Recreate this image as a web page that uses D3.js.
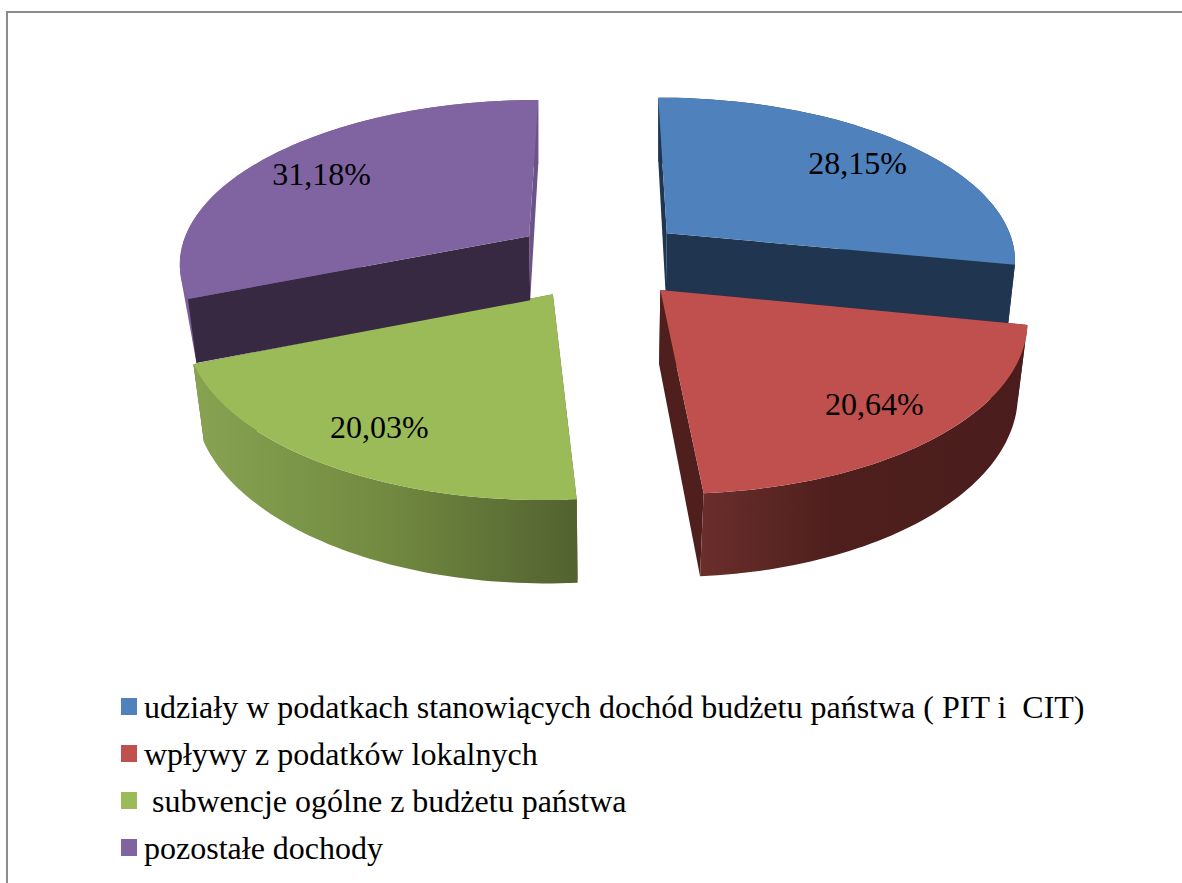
<!DOCTYPE html>
<html>
<head>
<meta charset="utf-8">
<script src="https://cdn.jsdelivr.net/npm/d3@7"></script>
<style>
  html, body { margin: 0; padding: 0; background: #fff; }
  svg { display: block; }
  text { font-family: "Liberation Serif", serif; fill: #000; white-space: pre; }
</style>
</head>
<body>
<div id="chart"></div>
<script>
const categories = [
  'udziały w podatkach stanowiących dochód budżetu państwa ( PIT i  CIT)',
  'wpływy z podatków lokalnych',
  ' subwencje ogólne z budżetu państwa',
  'pozostałe dochody'
];
const shares = [28.15, 20.64, 20.03, 31.18];

// top face, then the two flat cut faces, then the wall gradient left to right
const topColors = ['#4f81bd', '#c0504d', '#9bbb59', '#8064a2'];
const startFaceColors = ['#1f3550', '#4f1f1e', '#546431', '#382943'];
const endFaceColors = ['#1f3550', '#4f1f1e', '#546431', '#6c5489'];
const wallStops = [
  ['#1f3550', '#1f3550', '#1f3550'],
  ['#6a2e2b', '#4e1f1d', '#4a1d1c'],
  ['#87a352', '#728a40', '#526230'],
  ['#7a5f9c', '#6c5489', '#6c5489']
];

const width = 1182;
const height = 883;
const explode = 0.25;
const labelRadius = 0.79;

// camera, fitted against the corners of the slices
const cx = 600.5, cy = 258.5, scaleX = 351, scaleY = 163, perspective = 0.15;

const svg = d3.select('#chart').append('svg')
  .attr('width', width)
  .attr('height', height);
const defs = svg.append('defs');

// frame is open on the right and at the bottom
svg.append('path')
  .attr('d', `M7,${height}V12H${width}`)
  .attr('fill', 'none')
  .attr('stroke', '#8c8c8c')
  .attr('stroke-width', 2);

const pie = d3.pie().sort(null).value(d => d);
const slices = pie(shares);

function topPoint(X, Y) {
  const s = 1 / (1 + perspective * Y);
  return [cx + scaleX * X * s, cy - scaleY * Y * s];
}

// the underside sits lower, more so for the slices pushed towards the viewer
function bottomPoint(X, Y, front) {
  const p = topPoint(X, Y);
  const shrink = 0.983 + 0.015 * Y;
  const depth = front ? 73 - 8.5 * Y : 64;
  return [cx + (p[0] - cx) * shrink, p[1] + depth];
}

const line = d3.line();

slices.forEach((slice, i) => {
  const mid = (slice.startAngle + slice.endAngle) / 2;
  const ox = explode * Math.sin(mid);
  const oy = explode * Math.cos(mid);
  const front = Math.cos(mid) < 0;

  const rim = d3.range(0, 61).map(k => {
    const a = slice.startAngle + (slice.endAngle - slice.startAngle) * k / 60;
    return [ox + Math.sin(a), oy + Math.cos(a)];
  });
  const first = rim[0];
  const last = rim[rim.length - 1];
  const bottom = p => bottomPoint(p[0], p[1], front);
  const top = p => topPoint(p[0], p[1]);
  const apex = [ox, oy];

  const group = svg.append('g').attr('class', 'slice');

  const xs = rim.map(p => top(p)[0]);
  const grad = defs.append('linearGradient')
    .attr('id', `wall${i}`)
    .attr('gradientUnits', 'userSpaceOnUse')
    .attr('x1', d3.min(xs)).attr('x2', d3.max(xs))
    .attr('y1', 0).attr('y2', 0);
  const offsets = i === 1 ? [0, 0.4, 1] : [0, 0.5, 1];
  wallStops[i].forEach((c, k) => {
    grad.append('stop').attr('offset', offsets[k]).attr('stop-color', c);
  });

  const drawFaces = () => {
    group.append('path')
      .attr('d', line([top(apex), top(last), bottom(last), bottom(apex)]) + 'Z')
      .attr('fill', endFaceColors[i]);
    group.append('path')
      .attr('d', line([top(apex), top(first), bottom(first), bottom(apex)]) + 'Z')
      .attr('fill', startFaceColors[i]);
  };

  if (front) {
    drawFaces();
    group.append('path')
      .attr('d', line(rim.map(top).concat(rim.map(bottom).reverse())) + 'Z')
      .attr('fill', `url(#wall${i})`);
  } else {
    // back slices: only a straight sliver of wall shows past the top
    const hull = d3.polygonHull(rim.map(top).concat([bottom(first), bottom(last)]));
    group.append('path')
      .attr('d', line(hull) + 'Z')
      .attr('fill', `url(#wall${i})`);
    drawFaces();
  }

  group.append('path')
    .attr('d', line([top(apex)].concat(rim.map(top))) + 'Z')
    .attr('fill', topColors[i]);
});

const pct = d3.formatLocale({ decimal: ',', thousands: ' ', grouping: [3], currency: ['', ''] }).format('.2f');

slices.forEach(slice => {
  const mid = (slice.startAngle + slice.endAngle) / 2;
  const r = labelRadius + explode;
  const p = topPoint(r * Math.sin(mid), r * Math.cos(mid));
  svg.append('text')
    .attr('x', p[0])
    .attr('y', p[1] + 13)
    .attr('text-anchor', 'middle')
    .attr('font-size', 32)
    .text(pct(slice.data) + '%');
});

const legendY = d3.scaleLinear().domain([0, 3]).range([718, 859]);

categories.forEach((name, i) => {
  svg.append('rect')
    .attr('x', 121)
    .attr('y', legendY(i) - 20)
    .attr('width', 16)
    .attr('height', 17)
    .attr('fill', topColors[i]);
  svg.append('text')
    .attr('x', 144)
    .attr('y', legendY(i))
    .attr('font-size', 32)
    .text(name);
});
</script>
</body>
</html>
